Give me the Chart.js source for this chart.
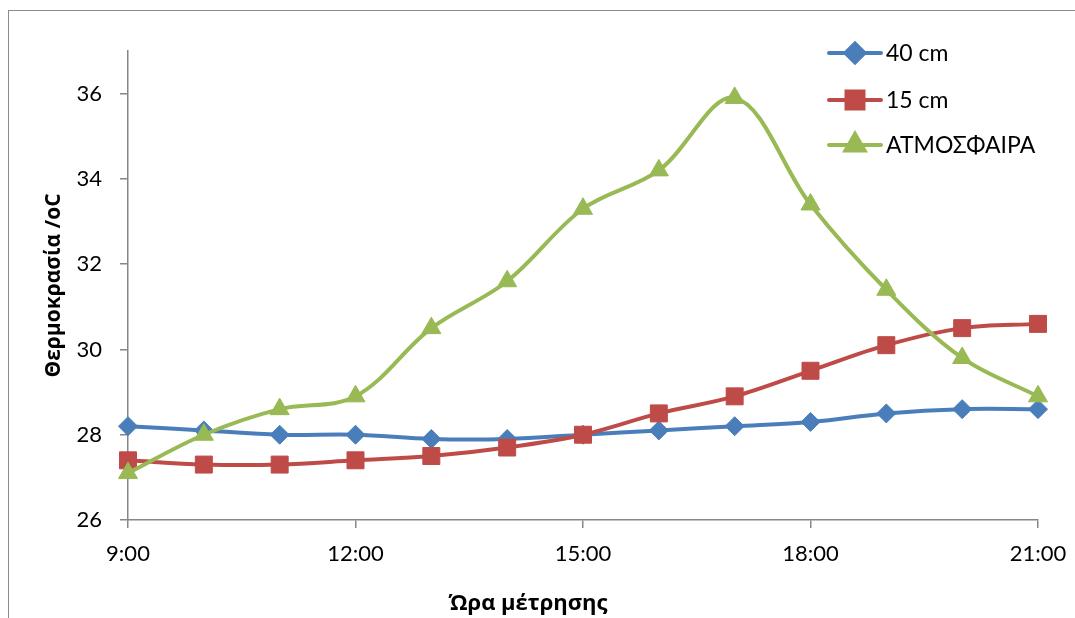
<!DOCTYPE html>
<html lang="el">
<head>
<meta charset="UTF-8">
<title>Θερμοκρασία ανά ώρα</title>
<script src="https://cdn.jsdelivr.net/npm/chart.js"></script>
<style>
    html, body { margin: 0; padding: 0; background: #fff; overflow: hidden; }
    .wrap { position: relative; width: 1075px; height: 618px; }
    .frame { position: absolute; left: 8px; top: 10px; width: 1200px; height: 800px; border: 1px solid #8c8c8c; }
    canvas { position: absolute; left: 0; top: 0; }
</style>
</head>
<body>
<div class="wrap">
    <div class="frame"></div>
    <canvas id="chart" width="1075" height="618"></canvas>
</div>
<script>
    // ώρες μέτρησης
    const hours = ['9:00', '10:00', '11:00', '12:00', '13:00', '14:00', '15:00',
                   '16:00', '17:00', '18:00', '19:00', '20:00', '21:00'];
    const depth40 = [28.2, 28.1, 28.0, 28.0, 27.9, 27.9, 28.0, 28.1, 28.2, 28.3, 28.5, 28.6, 28.6];
    const depth15 = [27.4, 27.3, 27.3, 27.4, 27.5, 27.7, 28.0, 28.5, 28.9, 29.5, 30.1, 30.5, 30.6];
    const atmosphere = [27.1, 28.0, 28.6, 28.9, 30.5, 31.6, 33.3, 34.2, 35.9, 33.4, 31.4, 29.8, 28.9];
    const yTicks = [26, 28, 30, 32, 34, 36];

    const FONT = 'Lato, "Open Sans", sans-serif';
    const BOLD = '"Open Sans", sans-serif';
    const AXIS = '#868686';

    const series = [
        { label: '40 cm', data: depth40, color: '#4a7ebb', style: 'rectRot', r: 9.5, order: 3 },
        { label: '15 cm', data: depth15, color: '#be4b48', style: 'rect', r: 12, order: 2 },
        { label: 'ΑΤΜΟΣΦΑΙΡΑ', data: atmosphere, color: '#98b954', style: 'triangle', r: 11, order: 1 }
    ];

    // legend inside the plot + x title (excel puts it a bit left of centre)
    const extrasPlugin = {
        id: 'extras',
        afterDraw(chart) {
            const ctx = chart.ctx;
            const rows = [53, 100, 145];
            ctx.save();
            series.forEach((s, i) => {
                const y = rows[i];
                ctx.strokeStyle = s.color;
                ctx.lineWidth = 4;
                ctx.lineCap = 'round';
                ctx.beginPath();
                ctx.moveTo(829, y);
                ctx.lineTo(881, y);
                ctx.stroke();
                ctx.fillStyle = s.color;
                ctx.strokeStyle = s.color;
                Chart.helpers.drawPoint(ctx, { pointStyle: s.style, radius: s.r, rotation: 0, borderWidth: 1 }, 855, y);
                ctx.fillStyle = '#000';
                ctx.font = '23px ' + FONT;
                ctx.textAlign = 'left';
                ctx.textBaseline = 'middle';
                ctx.fillText(s.label, 886, y + 1);
            });
            ctx.font = 'bold 22px ' + BOLD;
            ctx.textAlign = 'center';
            ctx.textBaseline = 'middle';
            ctx.fillStyle = '#000';
            ctx.fillText('Ώρα μέτρησης', 528, 604);
            ctx.restore();
        }
    };

    new Chart(document.getElementById('chart'), {
        type: 'line',
        data: {
            labels: hours,
            datasets: series.map(s => ({
                label: s.label,
                data: s.data,
                borderColor: s.color,
                backgroundColor: s.color,
                borderWidth: 4,
                tension: 0.35,
                pointStyle: s.style,
                pointRadius: s.r,
                pointBorderWidth: 1,
                order: s.order
            }))
        },
        options: {
            responsive: false,
            animation: false,
            layout: { padding: { left: 0, top: 51, right: 37, bottom: 0 } },
            plugins: { legend: { display: false }, tooltip: { enabled: false } },
            scales: {
                x: {
                    offset: false,
                    afterFit: s => { s.height = 98; s.paddingLeft = 0; s.paddingRight = 0; },
                    border: { color: AXIS, width: 1.5 },
                    grid: { drawOnChartArea: false, color: AXIS, tickLength: 8, lineWidth: 1.5 },
                    ticks: {
                        autoSkip: false, maxRotation: 0, padding: 13, color: '#000',
                        font: { family: FONT, size: 22 },
                        callback: (v, i) => (i % 3 === 0 ? hours[i] : null)
                    }
                },
                y: {
                    min: 26, max: 37,
                    afterFit: s => { s.width = 128; },
                    border: { color: AXIS, width: 1.5 },
                    grid: { drawOnChartArea: false, color: AXIS, tickLength: 8, lineWidth: 1.5 },
                    ticks: {
                        stepSize: 2, padding: 18, color: '#000',
                        font: { family: FONT, size: 22 },
                        callback: v => (yTicks.includes(v) ? v : null)
                    },
                    title: {
                        display: true, text: 'Θερμοκρασία /oC', color: '#000',
                        font: { family: BOLD, size: 21, weight: 'bold' },
                        padding: { top: 41, bottom: 0 }
                    }
                }
            }
        },
        plugins: [extrasPlugin]
    });
</script>
</body>
</html>
